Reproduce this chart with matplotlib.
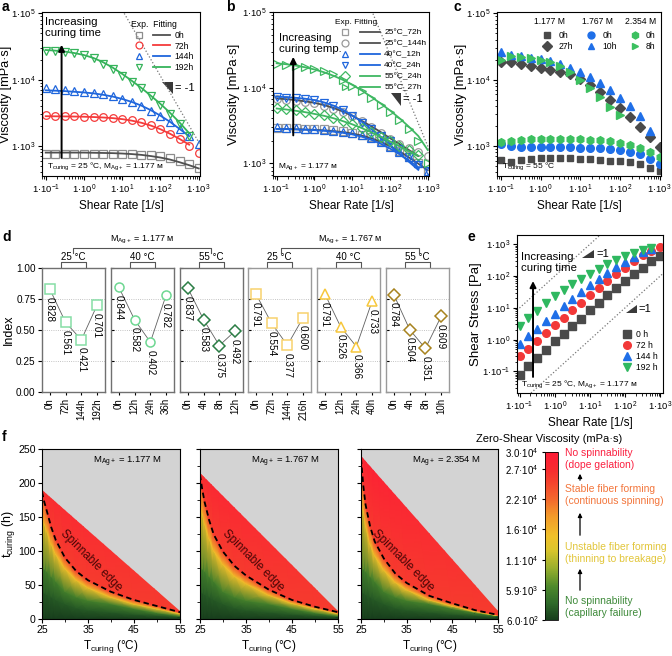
import numpy as np
import matplotlib
matplotlib.use('Agg')
import matplotlib.pyplot as plt
from matplotlib.lines import Line2D
from matplotlib.patches import Polygon, FancyArrowPatch
from matplotlib.colors import LinearSegmentedColormap
from matplotlib.ticker import (LogLocator, FuncFormatter, NullFormatter, MultipleLocator,
                               FixedLocator)

plt.rcParams['font.family'] = ['Liberation Sans', 'DejaVu Sans']
plt.rcParams['mathtext.fontset'] = 'custom'
plt.rcParams['mathtext.rm'] = 'Liberation Sans'
plt.rcParams['mathtext.it'] = 'Liberation Sans:italic'
plt.rcParams['mathtext.bf'] = 'Liberation Sans:bold'
plt.rcParams['axes.linewidth'] = 0.8

# ---------------- data ----------------
shear = [0.1, 0.178, 0.316, 0.562, 1.0, 1.78, 3.16, 5.62, 10, 17.8, 31.6, 56.2,
         100, 178, 316, 562, 1000]

# a: viscosity (mPa s), 25 C, 1.177 M
a_0h = [740, 740, 750, 760, 760, 760, 760, 760, 750, 740, 730, 720, 700, 660, 600, 540, 460]
a_72h = [2900, 2850, 2800, 2780, 2760, 2720, 2680, 2620, 2530, 2420, 2250, 2050, 1800,
         1500, 1250, 1000, 780]
a_144h = [7500, 7200, 7000, 6800, 6600, 6300, 6000, 5600, 5100, 4600, 4000, 3400, 2800,
          2300, 1800, 1400, 1050]
a_192h = [27500, 27000, 26000, 25000, 23500, 21000, 17500, 14500, 11500, 9300, 7400, 5600,
          4200, 3000, 2100, 1400]
a_fit_0h = [790, 790, 790, 790, 790, 785, 780, 775, 765, 750, 730, 700, 665, 620, 565, 510, 455]
a_fit_72h = [2800, 2790, 2780, 2770, 2750, 2720, 2680, 2620, 2530, 2400, 2230, 2020, 1780,
             1520, 1270, 1040]
a_fit_144h = [6900, 6800, 6700, 6550, 6400, 6200, 5900, 5550, 5100, 4600, 4050, 3450, 2850,
              2300, 1800, 1400]
a_fit_192h = [28000, 27400, 26500, 25200, 23500, 21200, 18300, 15200, 12200, 9600, 7500,
              5700, 4300, 3150, 2250, 1550]
a_labels = ['0h', '72h', '144h', '192h']

# b: viscosity, 1.177 M, different curing temperatures
b_25_72 = [2950, 2900, 2900, 2880, 2850, 2800, 2750, 2650, 2550, 2400, 2200, 1950, 1700,
           1450, 1200, 1000, 780]
b_25_144 = [7000, 6900, 6700, 6500, 6200, 5800, 5300, 4800, 4200, 3600, 3000, 2500, 2100,
            1800, 1600, 1400, 1250]
b_40_12 = [3000, 2950, 2900, 2850, 2800, 2750, 2700, 2600, 2500, 2350, 2150, 1900, 1650,
           1400, 1200, 1000, 800]
b_40_24 = [7500, 7400, 7300, 7100, 6800, 6300, 5700, 5000, 4200, 3450, 2800, 2300, 2000,
           1550, 1200, 950, 780]
b_55_24 = [5400, 5200, 5000, 4800, 4550, 4300, 4000, 3650, 3300, 2950, 2600, 2250, 1950,
           1700, 1500, 1300]
b_55_27 = [20500, 20000, 19300, 18500, 17500, 16700, 15000, 12800, 10500, 8900, 7300, 5900,
           4700, 3700, 2800, 2000, 1000]
b_fit_25_72 = [2850, 2840, 2820, 2800, 2770, 2730, 2670, 2590, 2480, 2330, 2150, 1930, 1690,
               1440, 1200, 990, 810]
b_fit_25_144 = [7200, 7050, 6850, 6600, 6300, 5900, 5400, 4850, 4250, 3650, 3100, 2600, 2150,
                1800, 1500, 1250]
b_fit_40_12 = [2850, 2830, 2810, 2780, 2740, 2690, 2620, 2530, 2410, 2250, 2050, 1820, 1570,
               1320, 1090, 890]
b_fit_40_24 = [7600, 7500, 7350, 7150, 6850, 6400, 5800, 5100, 4300, 3550, 2850, 2250, 1750,
               1350, 1050, 820]
b_fit_55_24 = [5300, 5150, 4950, 4750, 4500, 4250, 3950, 3620, 3280, 2930, 2580, 2250, 1950,
               1680, 1450, 1260]
b_fit_55_27 = [21000, 20400, 19600, 18600, 17400, 16000, 14400, 12700, 10900, 9200, 7600,
               6200, 5000, 3950, 3050, 2300, 1500]
b_labels = ['25°C_72h', '25°C_144h', '40°C_12h', '40°C_24h', '55°C_24h', '55°C_27h']

# c: viscosity at 55 C, three concentrations
c_1177_0h = [620, 570, 610, 640, 650, 660, 660, 650, 640, 630, 610, 600, 580, 560, 530, 460, 410]
c_1177_27h = [18500, 18300, 17500, 16300, 15000, 14000, 13000, 12000, 10200, 8300, 6500,
              5000, 3700, 2700, 1900, 1350, 970]
c_1767_0h = [1050, 980, 970, 960, 960, 960, 950, 950, 940, 930, 920, 900, 870, 820, 740, 640, 540]
c_1767_10h = [26000, 23500, 22500, 21500, 20500, 19000, 17000, 15000, 13000, 11000, 9000,
              7000, 5300, 4000, 2800, 1700]
c_2354_0h = [1150, 1200, 1230, 1250, 1250, 1260, 1260, 1260, 1250, 1240, 1220, 1180, 1120,
             1040, 940, 800, 680]
c_2354_8h = [20000, 22500, 22000, 21000, 20000, 18500, 16000, 13000, 9800, 7500, 5500, 3900, 2900]

# d: flow index
d_values = [[0.828, 0.561, 0.421, 0.701],
            [0.844, 0.582, 0.402, 0.782],
            [0.837, 0.583, 0.375, 0.492],
            [0.791, 0.554, 0.377, 0.600],
            [0.791, 0.526, 0.366, 0.733],
            [0.784, 0.504, 0.351, 0.609]]
d_times = [['0h', '72h', '144h', '192h'],
           ['0h', '12h', '24h', '36h'],
           ['0h', '4h', '8h', '12h'],
           ['0h', '72h', '144h', '216h'],
           ['0h', '12h', '24h', '40h'],
           ['0h', '4h', '8h', '10h']]
d_temps = ['25 °C', '40 °C', '55 °C', '25 °C', '40 °C', '55 °C']

# e: shear stress (Pa)
e_0h = [0.078, 0.145, 0.26, 0.48, 0.89, 1.5, 2.6, 4.6, 8.4, 14, 24.6, 41.6, 71, 114, 185, 300, 440]
e_72h = [0.30, 0.52, 0.93, 1.6, 2.8, 4.8, 8.4, 14, 24.5, 42, 71, 115, 185, 300, 470, 630, 790]
e_144h = [0.75, 1.28, 2.2, 3.8, 6.6, 11.2, 19, 31.5, 51, 82, 126, 190, 280, 410, 560, 700]
e_192h = [2.75, 4.8, 8.2, 14, 23.5, 37, 55, 81, 115, 166, 234, 315, 420, 534, 664, 787]
e_labels = ['0 h', '72 h', '144 h', '192 h']

# f: zero-shear viscosity maps (grid nodes along curing temperature)
f_T = [25, 25.5, 26, 27, 28, 30, 32.5, 35, 40, 45, 50, 55]
f_green_mid = [40, 38, 36, 32, 28, 22, 16, 13, 10, 7, 5, 3]
f_green_top = [75, 73, 70, 62, 55, 40, 32, 27, 22, 15, 9, 4.5]
f_below = [[150, 140, 130, 110, 95, 74, 57, 46, 32, 22, 15, 8],
           [170, 155, 140, 118, 100, 80, 63, 52, 35, 23, 15, 8],
           [190, 160, 137, 110, 93, 72, 54, 43, 28, 19, 11, 5]]
f_edge = [[187, 172, 160, 135, 116, 90, 70, 57, 40, 28, 19, 10],
          [212, 190, 172, 145, 124, 99, 78, 64, 43, 28, 18, 10],
          [236, 196, 168, 136, 114, 89, 67, 53, 34, 23, 13, 6]]
f_levels = [600, 2500, 5500, 15500, 25500, 30000]
f_diag_top = [190, 215, 240]
f_diag_end = 12
f_conc = ['1.177', '1.767', '2.354']
cb_ticks = [600, 5880, 11160, 16440, 21720, 27000, 30000]
cb_labels = ['6.0·10^{2}', '5.9·10^{3}', '1.1·10^{4}', '1.6·10^{4}', '2.2·10^{4}',
             '2.7·10^{4}', '3.0·10^{4}']

# ---------------- helpers ----------------
W, H = 672, 656


def rect(l, t, r, b):
    return [l / W, 1 - b / H, (r - l) / W, (b - t) / H]


def fpos(x, y):
    return x / W, 1 - y / H


def sci(v, pos):
    return r'$\mathregular{1·10^{%d}}$' % int(round(np.log10(v)))


def log_axes(ax, ylim, xlim=(0.08, 1080)):
    ax.set_xscale('log')
    ax.set_yscale('log')
    ax.set_xlim(*xlim)
    ax.set_ylim(*ylim)
    for axis in (ax.xaxis, ax.yaxis):
        axis.set_major_locator(LogLocator(base=10, numticks=12))
        axis.set_minor_locator(LogLocator(base=10, subs=np.arange(2, 10), numticks=12))
        axis.set_major_formatter(FuncFormatter(sci))
        axis.set_minor_formatter(NullFormatter())
    ax.tick_params(which='both', direction='out', labelsize=6.8, pad=1.5)
    ax.tick_params(which='major', length=3)
    ax.tick_params(which='minor', length=1.8)
    ax.set_xlabel('Shear Rate [1/s]', fontsize=8.5, labelpad=3)


def ylabel_at(ax, text, px_right, left, width, size=9.5):
    # px_right: figure pixel where the right side of the rotated label sits
    ax.set_ylabel(text, fontsize=size)
    ax.yaxis.set_label_coords((px_right - left) / width, 0.5)


def xs(arr):
    return shear[:len(arr)]


def mline(marker, color, filled=False, ms=5.5):
    if filled:
        return dict(ls='none', marker=marker, mfc=color, mec=color, ms=ms)
    return dict(ls='none', marker=marker, mfc='none', mec=color, ms=ms, mew=0.9)


fig = plt.figure(figsize=(6.72, 6.56), dpi=100)

GRAY_L, GRAY_D = '#8c8c8c', '#505050'
RED, BLUE, GREEN = '#f53a3a', '#1f66dc', '#35b35a'

# ---------------- panel a ----------------
ax = fig.add_axes(rect(42, 12, 200, 176))
log_axes(ax, (350, 1.05e5))
ylabel_at(ax, 'Viscosity [mPa·s]', 12.5, 42, 158, size=9.2)
a_data = [a_0h, a_72h, a_144h, a_192h]
a_fits = [a_fit_0h, a_fit_72h, a_fit_144h, a_fit_192h]
a_mk = ['s', 'o', '^', 'v']
a_mc = [GRAY_L, RED, BLUE, GREEN]
a_lc = [GRAY_D, RED, BLUE, GREEN]
for d, f, m, mc, lc in zip(a_data, a_fits, a_mk, a_mc, a_lc):
    ax.plot(xs(d), d, **mline(m, mc))
    ax.plot(xs(f), f, color=lc, lw=1.3)
ax.plot([11.3, 1080], [1.0e5, 1050], ls=':', color='#777777', lw=0.9)
ax.add_patch(Polygon([(110, 9100), (210, 9100), (210, 6000)], closed=True,
                     facecolor='#3a3a3a', edgecolor='none'))
ax.text(240, 7400, '= -1', fontsize=8, va='center', ha='left')
ax.annotate('', xy=(0.26, 37000), xytext=(0.26, 600),
            arrowprops=dict(arrowstyle='-|>', color='black', lw=1.4, mutation_scale=9))
ax.text(0.02, 0.97, 'Increasing\ncuring time', transform=ax.transAxes, fontsize=8.2,
        va='top', ha='left', linespacing=1.1)
ax.text(0.03, 0.025, r'$\mathregular{T_{curing}}$ = 25 °C, $\mathregular{M_{Ag+}}$ = 1.177 ᴍ',
        transform=ax.transAxes, fontsize=6, va='bottom', ha='left')
h_mk = [Line2D([], [], **mline(m, c, ms=5)) for m, c in zip(a_mk, a_mc)]
h_ln = [Line2D([], [], color=c, lw=1.3) for c in a_lc]
ax.legend(h_mk + h_ln, [''] * 4 + a_labels, ncol=2, title='Exp.  Fitting', alignment='left',
          loc='upper right', bbox_to_anchor=(0.99, 0.975), frameon=False, fontsize=6.2,
          title_fontsize=6.2, handlelength=2.0, handletextpad=0.5, columnspacing=0.1,
          labelspacing=0.18, borderaxespad=0.1)

# ---------------- panel b ----------------
ax = fig.add_axes(rect(273, 12, 429, 176))
log_axes(ax, (680, 1.0e5))
ylabel_at(ax, 'Viscosity [mPa·s]', 240, 273, 156)
b_data = [b_25_72, b_25_144, b_40_12, b_40_24, b_55_24, b_55_27]
b_fits = [b_fit_25_72, b_fit_25_144, b_fit_40_12, b_fit_40_24, b_fit_55_24, b_fit_55_27]
b_mk = ['s', 'o', '^', 'v', 'D', '>']
b_mc = ['#9a9a9a', '#9a9a9a', BLUE, BLUE, '#3fb862', '#3fb862']
b_lc = [GRAY_D, GRAY_D, BLUE, BLUE, '#3fb862', '#3fb862']
for d, f, m, mc, lc in zip(b_data, b_fits, b_mk, b_mc, b_lc):
    ax.plot(xs(d), d, **mline(m, mc, ms=5 if m == 'D' else 5.5))
    ax.plot(xs(f), f, color=lc, lw=1.3)
ax.plot([35.5, 1150], [95000, 1430], ls=':', color='#777777', lw=0.9)
ax.add_patch(Polygon([(107, 8400), (200, 8400), (200, 5800)], closed=True,
                     facecolor='#3a3a3a', edgecolor='none'))
ax.text(225, 7000, '= -1', fontsize=8, va='center', ha='left')
ax.annotate('', xy=(0.275, 27800), xytext=(0.275, 2150),
            arrowprops=dict(arrowstyle='-|>', color='black', lw=1.4, mutation_scale=9))
ax.text(0.04, 0.87, 'Increasing\ncuring temp.', transform=ax.transAxes, fontsize=8.2,
        va='top', ha='left', linespacing=1.1)
ax.text(0.03, 0.025, r'$\mathregular{M_{Ag+}}$ = 1.177 ᴍ',
        transform=ax.transAxes, fontsize=6, va='bottom', ha='left')
h_mk = [Line2D([], [], **mline(m, c, ms=5)) for m, c in zip(b_mk, b_mc)]
h_ln = [Line2D([], [], color=c, lw=1.3) for c in b_lc]
ax.legend(h_mk + h_ln, [''] * 6 + b_labels, ncol=2, title='Exp. Fitting', alignment='left',
          loc='upper right', bbox_to_anchor=(1.01, 0.985), frameon=False, fontsize=6,
          title_fontsize=6, handlelength=2.4, handletextpad=0.5, columnspacing=0.1,
          labelspacing=0.38, borderaxespad=0.1)

# ---------------- panel c ----------------
ax = fig.add_axes(rect(497, 12, 661, 176))
log_axes(ax, (350, 1.05e5))
ylabel_at(ax, 'Viscosity [mPa·s]', 467, 497, 164)
c_data = [c_1177_0h, c_1177_27h, c_1767_0h, c_1767_10h, c_2354_0h, c_2354_8h]
c_mk = ['s', 'D', 'o', '^', 'h', '>']
c_col = ['#4a4a4a', '#4a4a4a', '#1f6fe8', '#1f6fe8', '#3cc060', '#3cc060']
for d, m, c in zip(c_data, c_mk, c_col):
    ax.plot(xs(d), d, **mline(m, c, filled=True, ms=5 if m in 'sD' else 5.5))
ax.text(0.03, 0.025, r'$\mathregular{T_{curing}}$ = 55 °C', transform=ax.transAxes,
        fontsize=6, va='bottom', ha='left')
for x0, lab in zip([0.32, 0.615, 0.875], ['1.177 M', '1.767 M', '2.354 M']):
    ax.text(x0, 0.94, lab, transform=ax.transAxes, fontsize=6.2, ha='center', va='center')
h = [Line2D([], [], **mline(m, c, filled=True, ms=5)) for m, c in zip(c_mk, c_col)]
ax.legend(h, ['0h', '27h', '0h', '10h', '0h', '8h'], ncol=3, loc='upper right',
          bbox_to_anchor=(1.0, 0.915), frameon=False, fontsize=6.2, handlelength=1.0,
          handletextpad=0.8, columnspacing=1.6, labelspacing=0.2, borderaxespad=0.2)

# ---------------- panel d ----------------
d_left = [42, 111, 180, 248, 317, 386]
d_mk = ['s', 'o', 'D', 's', '^', 'D']
d_col = ['#86dea6', '#6ed792', '#2b7d45', '#f8d26e', '#f7c73c', '#a7821e']
for i in range(6):
    l = d_left[i]
    ax = fig.add_axes(rect(l, 268, l + 63, 392))
    x = np.arange(4)
    ax.plot(x, d_values[i], color='#606060', lw=0.6, zorder=2)
    ax.plot(x, d_values[i], ls='none', marker=d_mk[i], mfc='white', mec=d_col[i],
            ms=6.5 if d_mk[i] != 'D' else 6, mew=1.1, zorder=3)
    for xi, v in zip(x, d_values[i]):
        ax.annotate(f'{v:.3f}', (xi, v), xytext=(0, -5.5), textcoords='offset points',
                    rotation=-90, ha='center', va='top', fontsize=7.2)
    ax.set_xlim(-0.5, 3.5)
    ax.set_ylim(0, 1)
    ax.set_xticks(x)
    ax.set_xticklabels(d_times[i], rotation=90, fontsize=7)
    ax.set_yticks([0, 0.25, 0.5, 0.75, 1.0])
    ax.grid(axis='y', ls=':', color='#b0b0b0', lw=0.6)
    for s in ax.spines.values():
        s.set_color('#707070' if i < 3 else '#9a9a9a')
        s.set_linewidth(1.0)
    if i == 0:
        ax.yaxis.set_major_formatter(FuncFormatter(lambda v, p: f'{v:.2f}'))
        ax.tick_params(axis='y', labelsize=7.2, length=3, direction='out', pad=1.5)
        ylabel_at(ax, 'Index', 15, 42, 63, size=9)
    else:
        ax.tick_params(axis='y', labelleft=False, length=2.5, direction='in')
    ax.tick_params(axis='x', length=2.5, direction='out', pad=2)
    ax.plot([0.3, 0.3, 0.7, 0.7], [1.01, 1.05, 1.05, 1.01], color='#555555', lw=0.8,
            transform=ax.transAxes, clip_on=False)
    ax.text(0.5, 1.045, d_temps[i], transform=ax.transAxes, fontsize=7, ha='center',
            va='bottom')

for x0, x1, lab in [(73, 211, '1.177'), (281, 419, '1.767')]:
    xa, ya = fpos(x0, 253)
    xb, yb = fpos(x1, 248)
    fig.add_artist(Line2D([xa, xa, xb, xb], [ya, yb, yb, ya], color='#555555', lw=0.8,
                          transform=fig.transFigure))
    tx, ty = fpos((x0 + x1) / 2, 240)
    fig.text(tx, ty, r'$\mathregular{M_{Ag+}}$ = ' + lab + ' ᴍ', fontsize=6.5, ha='center',
             va='center')

# ---------------- panel e ----------------
ax = fig.add_axes(rect(517, 235, 663, 393))
log_axes(ax, (0.021, 1950), xlim=(0.084, 1200))
ylabel_at(ax, 'Shear Stress [Pa]', 482, 517, 146)
e_data = [e_0h, e_72h, e_144h, e_192h]
e_mk = ['s', 'o', '^', 'v']
e_col = ['#4a4a4a', '#f23838', '#1f6fe8', '#2fb860']
for d, m, c in zip(e_data, e_mk, e_col):
    ax.plot(xs(d), d, **mline(m, c, filled=True, ms=5.5))
ax.plot([0.084, 19], [8.4, 1900], ls=':', color='#777777', lw=0.9)
ax.plot([0.21, 1200], [0.021, 120], ls=':', color='#777777', lw=0.9)
ax.add_patch(Polygon([(5.9, 363), (13, 363), (13, 660)], closed=True,
                     facecolor='#3a3a3a', edgecolor='none'))
ax.text(15, 480, '=1', fontsize=8, va='center', ha='left')
ax.add_patch(Polygon([(107, 6.8), (214, 6.8), (214, 12.4)], closed=True,
                     facecolor='#3a3a3a', edgecolor='none'))
ax.text(240, 9, '=1', fontsize=8, va='center', ha='left')
ax.annotate('', xy=(0.24, 85), xytext=(0.24, 0.055),
            arrowprops=dict(arrowstyle='-|>', color='black', lw=1.4, mutation_scale=9))
ax.text(0.03, 0.89, 'Increasing\ncuring time', transform=ax.transAxes, fontsize=8.2,
        va='top', ha='left', linespacing=1.1)
ax.text(0.03, 0.02, r'$\mathregular{T_{curing}}$ = 25 °C, $\mathregular{M_{Ag+}}$ = 1.177 ᴍ',
        transform=ax.transAxes, fontsize=6, va='bottom', ha='left')
h = [Line2D([], [], **mline(m, c, filled=True, ms=5.5)) for m, c in zip(e_mk, e_col)]
ax.legend(h, e_labels, loc='lower right', bbox_to_anchor=(1.0, 0.1), frameon=False,
          fontsize=6.2, handlelength=1.0, handletextpad=0.6, labelspacing=0.25,
          borderaxespad=0.2)

# ---------------- panel f ----------------
cmap = LinearSegmentedColormap.from_list('spin', [
    (0.0, '#173d1c'), (0.1, '#2f6a2a'), (0.2, '#4f8a2c'), (0.3, '#93ad2e'),
    (0.42, '#dcc52c'), (0.5, '#f0c02a'), (0.62, '#f39a2a'), (0.72, '#f3682d'),
    (0.82, '#f5432d'), (0.9, '#f82a2f'), (1.0, '#fe1b36')])
f_left = [(42, 180), (200, 338), (361, 498)]
mesh = None
for i, (l, r) in enumerate(f_left):
    ax = fig.add_axes(rect(l, 449, r, 619))
    ax.set_facecolor('#d3d3d3')
    rows = [[0] * len(f_T), f_green_mid, f_green_top, f_below[i], f_edge[i], [250] * len(f_T)]
    X = np.array([f_T] * len(rows), dtype=float)
    Y = np.array(rows, dtype=float)
    C = np.array([[lv] * len(f_T) for lv in f_levels], dtype=float)
    mesh = ax.pcolormesh(X, Y, C, shading='gouraud', cmap=cmap, vmin=600, vmax=30000)
    clip = Polygon([(25, 0), (25, f_diag_top[i]), (55, f_diag_end), (55, 0)], closed=True,
                   transform=ax.transData)
    mesh.set_clip_path(clip)
    ax.plot(f_T, f_edge[i], ls=(0, (3, 2)), color='black', lw=1.3)
    ax.set_xlim(25, 55)
    ax.set_ylim(0, 250)
    ax.xaxis.set_major_locator(FixedLocator([25, 35, 45, 55]))
    ax.xaxis.set_minor_locator(FixedLocator([30, 40, 50]))
    ax.yaxis.set_major_locator(MultipleLocator(50))
    ax.yaxis.set_minor_locator(MultipleLocator(25))
    ax.tick_params(which='both', direction='out', labelsize=7.6, pad=1.5)
    ax.tick_params(which='major', length=3)
    ax.tick_params(which='minor', length=2)
    ax.set_xlabel(r'$\mathregular{T_{curing}}$ (°C)', fontsize=8.5, labelpad=2)
    if i == 0:
        ylabel_at(ax, r'$\mathregular{t_{curing}}$ (h)', 17, 42, 138, size=9)
    else:
        ax.tick_params(axis='y', labelleft=False)
    ax.text(0.62, 0.965, r'$\mathregular{M_{Ag+}}$ = ' + f_conc[i] + ' M',
            transform=ax.transAxes, fontsize=6.8, ha='center', va='top')
    tx = [35.7, 36.6, 34.3][i]
    ax.text(tx, 86, 'Spinnable edge', rotation=-45, fontsize=8.5, color='#4a0606',
            ha='center', va='center', rotation_mode='anchor')

cax = fig.add_axes(rect(545, 452, 558, 620))
cb = fig.colorbar(mesh, cax=cax)
cb.outline.set_linewidth(0.6)
cb.set_ticks(cb_ticks)
cb.set_ticklabels([r'$\mathregular{%s}$' % s for s in cb_labels])
cax.yaxis.set_ticks_position('left')
cax.yaxis.set_label_position('left')
cax.tick_params(labelsize=7, length=2.5, pad=2)
fig.text(*fpos(549, 439), 'Zero-Shear Viscosity (mPa·s)', fontsize=8, ha='center',
         va='center')

notes = [(459, 'No spinnability\n(dope gelation)', '#fb2040'),
         (495, 'Stable fiber forming\n(continuous spinning)', '#f3763c'),
         (553, 'Unstable fiber forming\n(thinning to breakage)', '#e2c63a'),
         (607, 'No spinnability\n(capillary failure)', '#3e8a3a')]
for y, txt, col in notes:
    fig.text(*fpos(565, y), txt, fontsize=7.5, color=col, ha='left', va='center',
             linespacing=1.2)
for y0, y1 in [(483, 471), (538, 510), (593, 566)]:
    fig.add_artist(FancyArrowPatch(
        fpos(580, y0), fpos(580, y1), transform=fig.transFigure, arrowstyle='-|>',
        mutation_scale=6, color='black', lw=0.9))

# panel letters
for lab, x, y in [('a', 2, 7), ('b', 226, 7), ('c', 453, 7), ('d', 2, 237),
                  ('e', 468, 237), ('f', 2, 437)]:
    fig.text(*fpos(x, y), lab, fontsize=10, fontweight='bold', ha='left', va='center')

fig.savefig('out.png', dpi=100)
